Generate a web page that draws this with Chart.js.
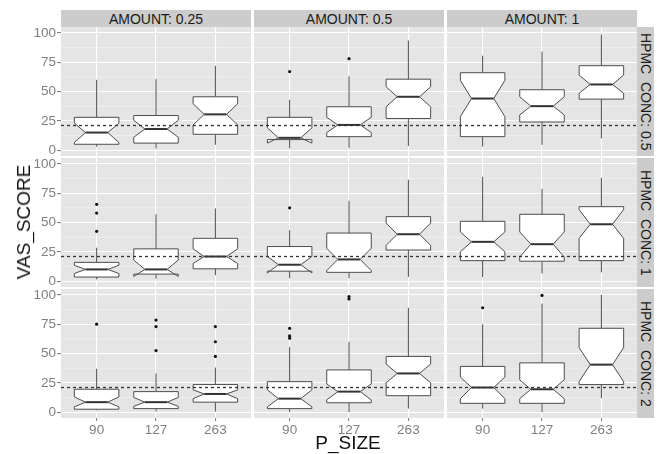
<!DOCTYPE html>
<html>
<head>
<meta charset="utf-8">
<script src="https://cdn.jsdelivr.net/npm/chart.js@4.4.0/dist/chart.umd.min.js"></script>
<style>
  body { margin: 0; background: #fff; }
  #page { position: relative; width: 662px; height: 454px; overflow: hidden; font-family: "Liberation Sans", Arial, sans-serif; }
  #page canvas { position: absolute; }
  .strip { position: absolute; background: #cccccc; color: #1a1a1a; font-size: 14px; display: flex; align-items: center; justify-content: center; white-space: pre; }
  .strip.right { writing-mode: vertical-rl; }
  .title { position: absolute; color: #111; font-size: 19px; white-space: nowrap; }
</style>
</head>
<body>
<div id="page"></div>
<script>
// categories / facets
const pSizes = ["90", "127", "263"];
const amounts = ["0.25", "0.5", "1"];
const concs = ["0.5", "1", "2"];
const yTicks = [0, 25, 50, 75, 100];
const yMinor = [12.5, 37.5, 62.5, 87.5];
const refLine = 21;

// box stats, indexed [conc][amount][p_size]
const whiskerLow = [
  [[3, 1.5, 4.5], [1.5, 2, 3.5], [3, 4.5, 10]],
  [[1.5, 2, 5], [2.5, 2.5, 3.5], [3.5, 6.5, 7.5]],
  [[1.5, 0.5, 0.5], [0, 0, 3], [3, 0, 12]],
];
const lowerHinge = [
  [[5, 6, 13.5], [9, 11.5, 27], [11.5, 24, 43.5]],
  [[3.5, 6, 10.5], [8.5, 7.5, 26.5], [17.5, 17, 17.5]],
  [[2.5, 3, 8.5], [3, 8, 14], [7.5, 7.5, 23.5]],
];
const notchLow = [
  [[6.5, 11, 21.5], [6, 15, 37], [28.5, 30, 48.5]],
  [[6.5, 4, 15], [7, 9, 30.5], [25, 20.5, 36.5]],
  [[4.5, 5, 11.5], [4.5, 10.5, 25], [11.5, 11.5, 26]],
];
const medians = [
  [[15, 18, 30.5], [10.5, 21.5, 45.5], [44, 37.5, 56]],
  [[10, 10, 21], [14, 18.5, 40], [33.5, 31.5, 48.5]],
  [[8.5, 8.5, 15.5], [11.5, 17.5, 33], [21, 19.5, 40.5]],
];
const notchHigh = [
  [[23, 25.5, 39.5], [19, 28, 54], [59.5, 45.5, 64]],
  [[13.5, 18, 27.5], [21, 28, 49.5], [42, 42, 61]],
  [[13, 12.5, 19], [19, 24, 41], [30, 27.5, 55]],
];
const upperHinge = [
  [[28, 29.5, 45.5], [28, 37, 60.5], [66, 51.5, 72]],
  [[16, 27.5, 36.5], [29.5, 41, 55], [51, 57, 63.5]],
  [[19.5, 17.5, 23.5], [26, 36, 47.5], [39, 42, 71.5]],
];
const whiskerHigh = [
  [[60, 60.5, 72], [43, 63, 93.5], [80.5, 84, 98.5]],
  [[28.5, 57, 62], [43.5, 68.5, 86.5], [89, 78.5, 88]],
  [[37, 33, 38], [55.5, 60, 89], [75, 92.5, 100]],
];
const outliers = [
  [[[], [], []], [[67], [78], []], [[], [], []]],
  [[[42.5, 58, 65.5], [], []], [[62.5], [], []], [[], [], []]],
  [[[75], [52.5, 73, 78.5], [47.5, 60, 73]], [[63, 65, 71.5], [96.5, 98.5], []], [[89], [99.5], []]],
];

const FONT = '"Liberation Sans", Arial, sans-serif';
const panelLeft = [61, 254, 447];
const panelTop = [27, 158, 289];
const panelW = 190;
const panelH = 129;
const boxWidth = 0.75;

const page = document.getElementById("page");

// panel background, minor grid and notched boxes
const notchBoxes = {
  id: "notchBoxes",
  beforeDraw(chart) {
    const { ctx, chartArea: a, scales } = chart;
    ctx.save();
    ctx.fillStyle = "#e5e5e5";
    ctx.fillRect(a.left, a.top, a.width, a.height);
    ctx.strokeStyle = "#f2f2f2";
    ctx.lineWidth = 0.7;
    for (const v of yMinor) {
      const y = scales.y.getPixelForValue(v);
      ctx.beginPath();
      ctx.moveTo(a.left, y);
      ctx.lineTo(a.right, y);
      ctx.stroke();
    }
    ctx.restore();
  },
  beforeDatasetsDraw(chart, args, opts) {
    const { ctx, scales } = chart;
    const r = opts.row, c = opts.col;
    const X = (v) => scales.x.getPixelForValue(v);
    const Y = (v) => scales.y.getPixelForValue(v);
    ctx.save();
    for (let i = 0; i < pSizes.length; i++) {
      const x = i + 1;
      const x0 = x - boxWidth / 2, x1 = x + boxWidth / 2, ind = boxWidth * 0.25;
      const q1 = lowerHinge[r][c][i], q3 = upperHinge[r][c][i], med = medians[r][c][i];
      const nlo = notchLow[r][c][i], nhi = notchHigh[r][c][i];

      // whiskers
      ctx.strokeStyle = "#4d4d4d";
      ctx.lineWidth = 1;
      ctx.beginPath();
      ctx.moveTo(X(x), Y(q3));
      ctx.lineTo(X(x), Y(whiskerHigh[r][c][i]));
      ctx.moveTo(X(x), Y(q1));
      ctx.lineTo(X(x), Y(whiskerLow[r][c][i]));
      ctx.stroke();

      // notched box
      ctx.beginPath();
      ctx.moveTo(X(x0), Y(q3));
      ctx.lineTo(X(x0), Y(nhi));
      ctx.lineTo(X(x0 + ind), Y(med));
      ctx.lineTo(X(x0), Y(nlo));
      ctx.lineTo(X(x0), Y(q1));
      ctx.lineTo(X(x1), Y(q1));
      ctx.lineTo(X(x1), Y(nlo));
      ctx.lineTo(X(x1 - ind), Y(med));
      ctx.lineTo(X(x1), Y(nhi));
      ctx.lineTo(X(x1), Y(q3));
      ctx.closePath();
      ctx.fillStyle = "#ffffff";
      ctx.fill();
      ctx.stroke();

      // median
      ctx.strokeStyle = "#333333";
      ctx.lineWidth = 2;
      ctx.beginPath();
      ctx.moveTo(X(x0 + ind), Y(med));
      ctx.lineTo(X(x1 - ind), Y(med));
      ctx.stroke();
    }
    ctx.restore();
  },
};

const makePanel = (r, c) => {
  const left = c === 0 ? 0 : panelLeft[c];
  const top = panelTop[r] - 8;
  const w = panelLeft[c] + panelW - left;
  const h = panelH + 8 + (r === 2 ? 22 : 8);
  const canvas = document.createElement("canvas");
  canvas.width = w;
  canvas.height = h;
  canvas.style.left = left + "px";
  canvas.style.top = top + "px";
  page.appendChild(canvas);

  const pts = [];
  outliers[r][c].forEach((list, i) => list.forEach((v) => pts.push({ x: i + 1, y: v })));

  new Chart(canvas, {
    type: "scatter",
    data: {
      datasets: [
        {
          type: "line",
          data: [{ x: 0.4, y: refLine }, { x: 3.6, y: refLine }],
          borderColor: "#333333",
          borderWidth: 1.3,
          borderDash: [3, 3],
          pointRadius: 0,
        },
        {
          data: pts,
          pointRadius: 1.6,
          backgroundColor: "#111111",
          borderWidth: 0,
        },
      ],
    },
    options: {
      responsive: false,
      animation: false,
      events: [],
      devicePixelRatio: 1,
      layout: { autoPadding: false, padding: { top: 8, bottom: r === 2 ? 0 : 8, left: 0, right: 0 } },
      plugins: {
        legend: { display: false },
        tooltip: { enabled: false },
        notchBoxes: { row: r, col: c },
      },
      scales: {
        x: {
          type: "linear",
          min: 0.4,
          max: 3.6,
          afterBuildTicks: (s) => { s.ticks = pSizes.map((p, i) => ({ value: i + 1 })); },
          afterFit: (s) => { s.height = r === 2 ? 22 : 0; s.paddingLeft = 0; s.paddingRight = 0; },
          grid: { color: "#ffffff", lineWidth: 1.1, tickLength: 3, tickColor: "#7f7f7f", drawTicks: r === 2 },
          border: { display: false },
          ticks: {
            display: r === 2,
            autoSkip: false,
            maxRotation: 0,
            padding: 1,
            color: "#7f7f7f",
            font: { family: FONT, size: 13.5 },
            callback: (v) => pSizes[v - 1],
          },
        },
        y: {
          type: "linear",
          min: -5,
          max: 105,
          afterBuildTicks: (s) => { s.ticks = yTicks.map((v) => ({ value: v })); },
          afterFit: (s) => { s.width = c === 0 ? 61 : 0; s.paddingTop = 0; s.paddingBottom = 0; },
          grid: { color: "#ffffff", lineWidth: 1.1, tickLength: 4, tickColor: "#7f7f7f", drawTicks: c === 0 },
          border: { display: false },
          ticks: {
            display: c === 0,
            padding: 1,
            color: "#7f7f7f",
            font: { family: FONT, size: 13.5 },
          },
        },
      },
    },
    plugins: [notchBoxes],
  });
};

const addDiv = (cls, text, css) => {
  const d = document.createElement("div");
  d.className = cls;
  d.textContent = text;
  Object.assign(d.style, css);
  page.appendChild(d);
};

for (let c = 0; c < amounts.length; c++) {
  addDiv("strip", "AMOUNT: " + amounts[c], { left: panelLeft[c] + "px", top: "10px", width: panelW + "px", height: "17px" });
}
for (let r = 0; r < concs.length; r++) {
  addDiv("strip right", "HPMC  CONC: " + concs[r], { left: panelLeft[2] + panelW + "px", top: panelTop[r] + "px", width: "17px", height: panelH + "px" });
}
for (let r = 0; r < concs.length; r++) {
  for (let c = 0; c < amounts.length; c++) makePanel(r, c);
}

addDiv("title", "VAS_SCORE", { left: "24px", top: "222px", transform: "translate(-50%, -50%) rotate(-90deg)" });
addDiv("title", "P_SIZE", { left: "348px", top: "443px", transform: "translate(-50%, -50%)" });
</script>
</body>
</html>
